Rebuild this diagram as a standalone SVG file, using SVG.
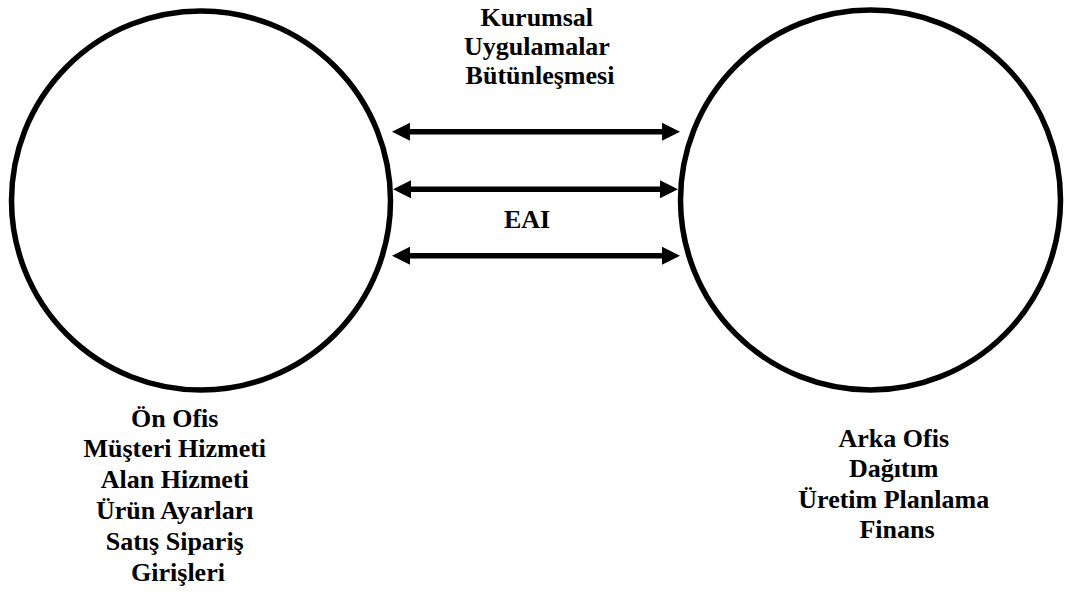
<svg xmlns="http://www.w3.org/2000/svg" width="1072" height="594" viewBox="0 0 1072 594">
  <style>
    .node { fill: #ffffff; stroke: #000000; stroke-width: 5.5; }
    .label { font-size: 26px; fill: #000000; text-anchor: middle; }
    .link { stroke: #000000; stroke-width: 5.5; fill: none; marker-start: url(#head); marker-end: url(#head); }
  </style>
  <defs>
    <marker id="head" viewBox="0 0 18 18" refX="8" refY="9" markerWidth="18" markerHeight="18" markerUnits="userSpaceOnUse" orient="auto-start-reverse">
      <path d="M0,0 L18,9 L0,18 z" fill="#000000"/>
    </marker>
  </defs>
  <rect width="1072" height="594" fill="#ffffff"/>

  <!-- all labels share one serif bold face -->
  <g font-family="Liberation Serif, Nimbus Roman, FreeSerif, Noto Serif, DejaVu Serif, serif" font-weight="bold">

  <!-- front office -->
  <g id="front-office">
    <circle class="node" cx="201" cy="200.5" r="189.5"/>
    <text class="label">
      <tspan x="178" y="426.5">Ön Ofis</tspan>
      <tspan x="178" y="457.3">Müşteri Hizmeti</tspan>
      <tspan x="178" y="488.1">Alan Hizmeti</tspan>
      <tspan x="178" y="518.9">Ürün Ayarları</tspan>
      <tspan x="178" y="549.7">Satış Sipariş</tspan>
      <tspan x="178" y="580.5">Girişleri</tspan>
    </text>
  </g>

  <!-- back office -->
  <g id="back-office">
    <circle class="node" cx="870.5" cy="200" r="190"/>
    <text class="label">
      <tspan x="897" y="446.5">Arka Ofis</tspan>
      <tspan x="897" y="477">Dağıtım</tspan>
      <tspan x="897" y="507.5">Üretim Planlama</tspan>
      <tspan x="897" y="538">Finans</tspan>
    </text>
  </g>

  <!-- integration title -->
  <g id="integration-title">
    <text class="label">
      <tspan x="540" y="26">Kurumsal</tspan>
      <tspan x="540" y="55">Uygulamalar</tspan>
      <tspan x="540" y="84">Bütünleşmesi</tspan>
    </text>
  </g>

  <!-- two-way links between the offices -->
  <g id="connectors">
    <line class="link" x1="402" y1="131.7" x2="670" y2="131.7"/>
    <line class="link" x1="403" y1="189.3" x2="668" y2="189.3"/>
    <line class="link" x1="402" y1="255.7" x2="670" y2="255.7"/>
  </g>

  <g id="eai-label">
    <text class="label" x="527" y="228">EAI</text>
  </g>

  </g>
</svg>
